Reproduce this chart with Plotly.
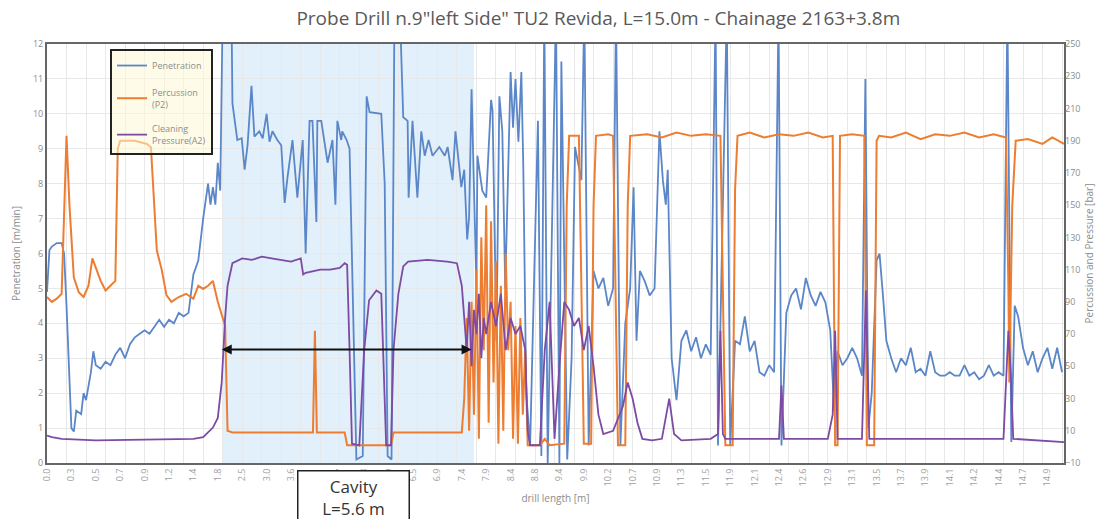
import plotly.graph_objects as go

# x = sample number along the drill (one sample every ~0.07 m); tick labels every 5 samples
TICK_LABELS = ["0.0","0.3","0.5","0.7","0.9","1.2","1.4","1.8","2.5","3.0","3.6","4.1","4.7","5.3",
               "5.9","6.5","6.9","7.4","7.9","8.4","8.8","9.4","9.9","10.2","10.7","10.9","11.3",
               "11.5","11.9","12.1","12.4","12.6","12.9","13.1","13.5","13.7","13.9","14.1","14.2",
               "14.4","14.7","14.9"]

# Penetration [m/min] (left axis)
pen_s = [0,0.5,1,2,3,3.5,4,5,5.5,6,7,7.5,8,9,9.5,10,11,12,13,14,15,16,17,18,19,20,21,22,23,24,25,26,27,28,29,30,31,32,33,33.5,34,34.5,35,35.5,36,
         36.8,37.8,38,39,39.9,40.5,41.1,41.9,42.5,43.5,44.2,45,45.6,46.2,47.2,48,48.7,49.3,50.3,51.3,52.4,53,53.8,54.4,55.2,55.4,56.2,57.5,58.5,59.1,59.5,60.3,60.5,61.4,62,62.6,63.4,64.7,65.5,66.1,68.5,69.2,69.8,70.6,71.2,72.3,73,73.9,74.1,74.9,75.9,76.7,77.4,78.2,79,80.4,81.5,82.1,83.1,83.7,84.9,85.5,86.1,86.5,
         87,88,88.2,89.2,90,91,91.3,92.1,92.7,93.3,93.9,95,95.5,96,96.6,97.2,97.6,98.2,99,100.6,101.3,101.9,102.6,104.3,105,105.4,106.6,107.5,108.2,109.5,110.1,111,112,113,114,115,116,116.6,117.5,118.5,119.5,120.2,120.8,121.5,122.5,123.5,124.5,125.5,126.2,126.8,127.2,128,129,130,131,132,133,134,135,136,137,137.5,138,139.3,140,141,142,143,144,145,146,147,148,149,149.9,150.5,151.5,152.5,153.5,154.5,155.5,156.5,157.5,158.5,159.5,160.5,161.3,162,163,164,165,166,167,167.7,168.3,169,170,170.6,171.3,172,173,174,175,176,177,178,179,180,181,182,183,184,185,186,187,188,189,190,191,192,193,194,195,196,196.8,197.6,198.3,199,200,201,202,203,204,205,206,207,208]
pen_v = [4.9,6.1,6.2,6.3,6.3,6.0,4.5,1.0,0.9,1.5,1.4,2.0,1.8,2.6,3.2,2.8,2.7,2.9,2.8,3.1,3.3,3.0,3.4,3.6,3.7,3.8,3.7,3.9,4.1,3.9,4.1,4.0,4.3,4.2,4.3,5.4,5.8,7.0,8.0,7.4,7.9,7.4,8.6,7.8,13,
         13,13,10.3,9.25,9.3,8.4,9.1,10.8,9.35,9.5,9.3,10.0,9.2,9.5,9.25,9.1,7.45,8.2,9.25,7.6,9.25,6.0,9.8,9.8,6.9,9.8,9.8,8.6,9.25,7.4,9.8,9.25,9.5,9.25,9.0,5.0,0.1,0.2,10.5,10.05,10.0,8.0,0.2,0.1,13,13,9.9,9.8,7.6,9.8,7.6,9.5,8.8,9.25,8.8,9.05,8.8,9.05,8.1,9.5,7.9,8.4,6.4,7.05,
         10.7,5.0,8.8,7.8,7.6,10.4,10.1,3.5,10.5,9.5,5.0,11.2,9.6,11.0,9.2,11.2,8.5,2.0,0.5,9.8,0.2,13,0.0,13,0.0,11.5,0.1,3.0,9.05,8.1,13,0.5,5.5,5.0,5.3,4.5,5.0,13,0.5,4.0,5.0,7.9,3.5,5.5,5.2,4.8,5.0,9.5,8.1,7.4,8.4,3.0,1.8,3.5,3.8,3.2,3.6,3.0,3.4,3.1,13,0.5,4.0,13,0.5,3.5,3.4,4.2,3.2,3.5,2.6,2.5,2.8,2.6,13,0.5,4.3,4.8,5.0,4.4,5.3,4.8,4.5,4.9,4.6,3.8,1.5,3.2,2.8,3.0,3.3,3.0,2.5,11.0,1.0,2.0,5.8,6.0,4.8,3.5,3.0,2.6,3.0,2.8,3.3,2.6,2.7,2.5,3.2,2.6,2.5,2.5,2.6,2.5,2.5,2.8,2.5,2.6,2.4,2.5,2.8,2.5,2.6,2.5,13,0.6,4.5,4.2,3.3,2.8,3.2,2.6,3.0,3.3,2.7,3.3,2.6]

# Percussion P2 [bar] (right axis)
per_s = [0,1,2,3,4,4.6,5.5,6.5,7.5,8.5,9.3,10.2,11,12,13,14,14.5,15,18,20.5,21.3,22,22.5,23.5,24.5,25.5,27,28.5,30,31,32,33,34,35,36,36.5,37,38,54.5,54.9,55.3,61,61.5,70.5,71,85,85.5,
         86,86.5,87,87.5,88,88.5,89,89.5,90,90.5,91,91.5,92,92.5,93,93.5,94,94.5,95,95.5,96,96.5,97,97.5,98,98.5,101,102,103,106,106.5,107,109,109.5,110,111.5,112,112.5,115,116,116.5,117,118.5,119,119.5,
         123,126,129,132,135,138,138.5,139,140.5,141,141.5,144,147,150,153,156,159,161,161.5,162,162.5,165,167.5,168,169.5,170,170.5,173,176,179,182,185,188,191,194,196.5,197,197.2,197.8,198.5,201,204,206,208.4]
per_v = [93,90,92,95,193,150,105,96,93,100,117,110,103,97,100,103,185,190,190,188,186,150,122,110,94,90,93,95,92,100,98,100,103,90,80,75,10,9,9,72,9,9,1,1,9,9,30,
         80,10,90,20,110,5,130,60,150,15,140,40,115,2,100,10,120,60,90,5,75,2,80,20,60,1,1,5,1,2,150,193,193,100,2,2,150,193,194,193,100,1,1,150,193,
         194,192,195,193,194,193,100,1,1,160,193,195,192,194,193,195,192,193,1,1,193,194,193,1,1,190,193,192,195,191,194,193,195,192,194,192,100,40,150,190,191,188,192,188]

# Cleaning pressure A2 [bar] (right axis)
cle_s = [0,1,3,10,20,30,32,34,35,35.8,36.5,37,38,40,42,44,46,48,50,52,52.5,53,56,58,60,61,61.5,62,62.5,64,65,66,67.5,68.5,69,69.5,70.5,71,72,73,74,78,82,84,85,85.5,
         86,86.5,87,87.5,88,88.5,89,89.5,90,91,92,93,94,95,96,97,98,98.5,99,101,102,103,103.5,104,105,106,107,108,109,110,111,112,113,114,116,118,119,120,121,122,124,126,127.5,128.5,130,136,137.5,138,138.5,139,147,150,150.5,151,160,161,161.5,162,167,167.8,168.5,196,197,197.5,198,208.4]
cle_v = [7,6,5,4,4.5,5,6,12,18,40,80,100,114,117,116,118,117,116,115,117,107,108,110,110,111,114,113,60,2,1,60,91,97,95,50,1,1,60,95,112,115,116,115,114,100,80,
         60,90,50,85,70,95,55,80,70,90,75,95,60,80,70,75,60,10,1,1,60,90,50,5,50,90,85,75,80,60,75,50,20,8,10,25,40,30,15,5,4,5,30,8,4,5,8,72,8,5,5,5,38,5,5,20,72,5,5,97,5,5,72,45,5,3]

BLUE = "#5b86c8"
ORANGE = "#ed7d31"
PURPLE = "#7d4ba3"
GREY = "#8c8c8c"

fig = go.Figure()
fig.add_trace(go.Scatter(x=pen_s, y=pen_v, mode="lines", name="Penetration", legendgroup="a",
                         line=dict(color=BLUE, width=1.8), yaxis="y"))
fig.add_trace(go.Scatter(x=per_s, y=per_v, mode="lines", name="Percussion<br>(P2)", legendgroup="b",
                         line=dict(color=ORANGE, width=2), yaxis="y2"))
fig.add_trace(go.Scatter(x=cle_s, y=cle_v, mode="lines", name="Cleaning<br>Pressure(A2)", legendgroup="c",
                         line=dict(color=PURPLE, width=1.8), yaxis="y2"))

# cavity zone shading
fig.add_shape(type="rect", xref="x", yref="paper", x0=36, x1=87.5, y0=0, y1=1,
              fillcolor="rgba(200,228,247,0.55)", line=dict(width=0), layer="below")

# cavity arrow
fig.add_annotation(x=87, y=3.25, ax=35.5, ay=3.25, xref="x", yref="y", axref="x", ayref="y",
                   text="", showarrow=True, arrowhead=2, arrowside="end+start",
                   arrowsize=1, arrowwidth=2, arrowcolor="#111")

# cavity label box
fig.add_annotation(x=0.301, y=-0.017, xref="paper", yref="paper", xanchor="center", yanchor="top",
                   text="Cavity<br>L=5.6 m", showarrow=False, align="center", valign="top",
                   font=dict(family="Open Sans", size=17, color="#333"),
                   bgcolor="white", bordercolor="#222", borderwidth=1.5, borderpad=3,
                   width=104, height=64)

fig.update_layout(
    width=1104, height=519,
    margin=dict(l=47, r=40, t=44, b=56),
    paper_bgcolor="white", plot_bgcolor="white",
    title=dict(text='Probe Drill n.9"left Side" TU2 Revida, L=15.0m - Chainage 2163+3.8m',
               x=0.542, xanchor="center", y=0.965, yanchor="middle",
               font=dict(family="Open Sans", size=19, color="#595959")),
    font=dict(family="Open Sans", color=GREY),
    showlegend=True,
    legend=dict(x=0.062, y=0.988, xanchor="left", yanchor="top",
                bgcolor="rgba(253,250,215,0.55)", bordercolor="#222", borderwidth=2,
                font=dict(size=9, color=GREY), tracegroupgap=10),
    xaxis=dict(range=[0, 208.4], tickmode="array",
               tickvals=[5 * i for i in range(len(TICK_LABELS))], ticktext=TICK_LABELS,
               tickangle=-90, tickfont=dict(size=9, color="#a0a0a0"),
               showgrid=False, zeroline=False,
               minor=dict(tickmode="linear", tick0=0, dtick=4, showgrid=True,
                          gridcolor="#e8e8e8", gridwidth=1),
               showline=True, linecolor="#666", linewidth=2, mirror=True, ticks="",
               title=dict(text="drill length [m]", font=dict(size=10, color=GREY), standoff=10)),
    yaxis=dict(range=[0, 12], dtick=1, tickfont=dict(size=9, color=GREY),
               gridcolor="#e8e8e8", zeroline=False,
               showline=True, linecolor="#666", linewidth=2, mirror=True,
               title=dict(text="Penetration [m/min]", font=dict(size=10, color=GREY), standoff=10)),
    yaxis2=dict(range=[-10, 250], tickmode="array", tickvals=list(range(-10, 251, 20)),
                overlaying="y", side="right", showgrid=False, zeroline=False,
                tickfont=dict(size=9, color=GREY),
                title=dict(text="Percussion and Pressure [bar]", font=dict(size=10, color=GREY), standoff=6)),
)

fig.write_html("out.html")
